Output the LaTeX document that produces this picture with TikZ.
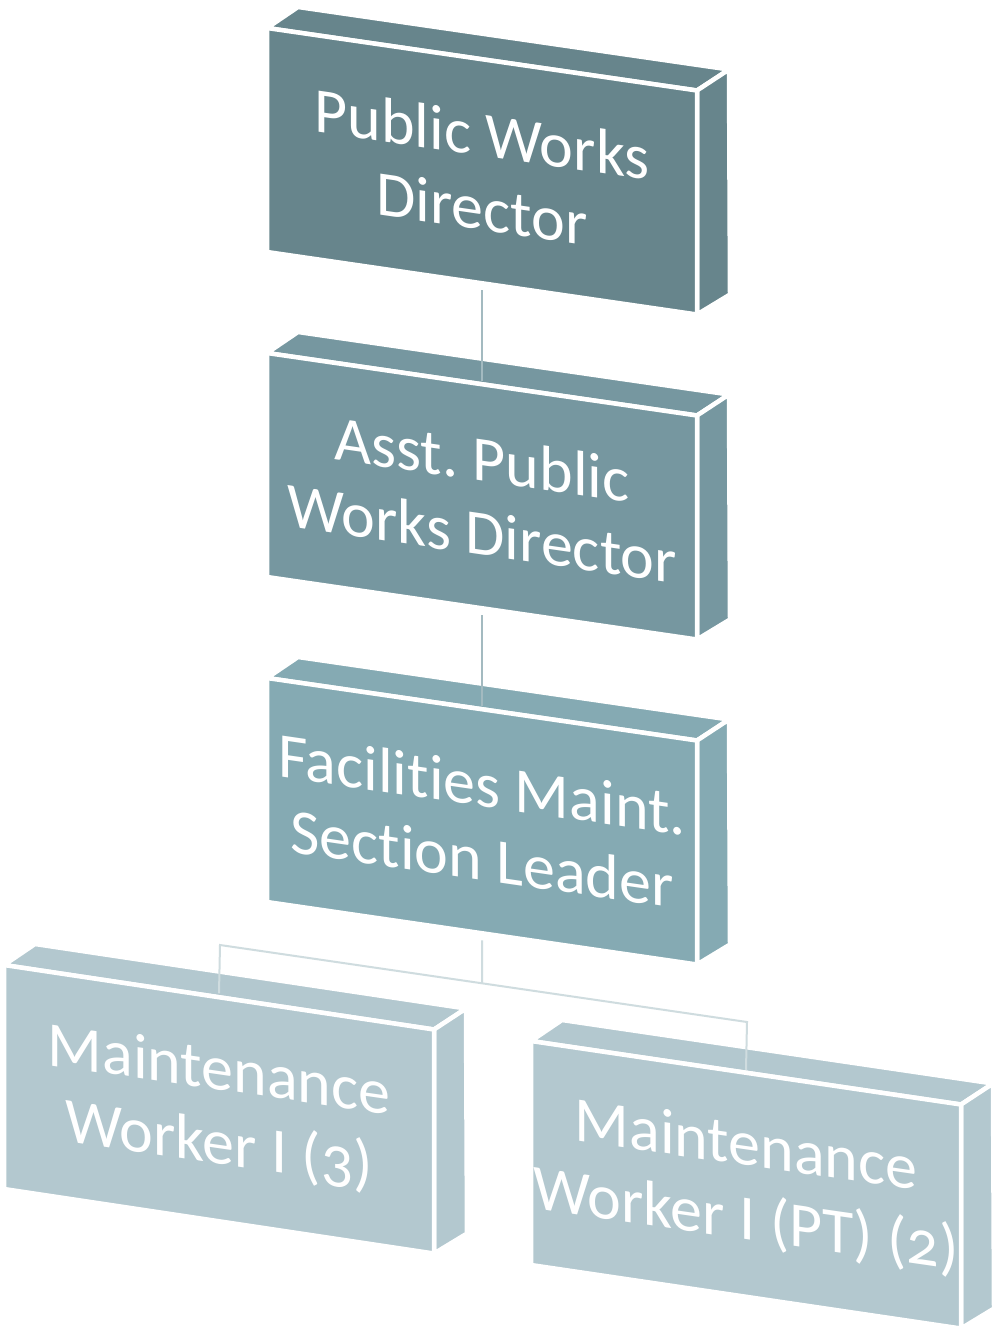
\documentclass[tikz,border=0pt]{standalone}
\usepackage{fontspec}
\setmainfont{Carlito}[Numbers=OldStyle, Ligatures=NoCommon]
\frenchspacing
\usetikzlibrary{calc}
\definecolor{lvA}{HTML}{67858C}
\definecolor{lvB}{HTML}{7697A0}
\definecolor{lvC}{HTML}{85AAB3}
\definecolor{lvD}{HTML}{B3C8CF}
\definecolor{linkA}{HTML}{A3BAC0}
\definecolor{linkB}{HTML}{CFDCDF}
\newcommand\lblfont{\fontsize{64}{74}\selectfont}
\tikzset{
  face/.style={draw=white, line width=4.5pt, line join=miter},
  lbl/.style={text=white, align=center, font=\lblfont, yslant=-0.145, transform shape, inner sep=0pt},
  link/.style={line width=2pt},
}
\newcommand\orgbox[6]{%
  \coordinate (#1-tl) at (#2,#3);
  \coordinate (#1-tr) at (#2+430,#3+#6);
  \coordinate (#1-br) at (#2+430,#3+#6+224);
  \coordinate (#1-bl) at (#2,#3+224);
  \filldraw[fill=#4, face] (#1-tl) -- ++(31,-21) -- ($(#1-tr)+(32,-21)$) -- (#1-tr) -- cycle;
  \filldraw[fill=#4, face] (#1-tr) -- ++(32,-21) -- ($(#1-br)+(33,-20)$) -- (#1-br) -- cycle;
  \filldraw[fill=#4, face] (#1-tl) -- (#1-tr) -- (#1-br) -- (#1-bl) -- cycle;
  \node[lbl] (#1) at ($(#1-tl)!0.5!(#1-br)$) {#5};
}
\begin{document}
\begin{tikzpicture}[x=1pt, y=-1pt]
\fill[white] (0,0) rectangle (996,1335);
\useasboundingbox (0,0) rectangle (996,1335);

\orgbox{b1}{267}{28}{lvA}{Public Works\\Director}{62.5}
\orgbox{b2}{267}{353}{lvB}{Asst. Public\\Works Director}{62.5}
\draw[link, linkA] ($(b1-bl)!0.5!(b1-br)+(0,7)$) -- ($(b2-tl)!0.5!(b2-tr)+(0,-3)$);
\orgbox{b3}{267}{678}{lvC}{Facilit\kern0pt ies Maint.\\Section Leader}{62.5}
\draw[link, linkA] ($(b2-bl)!0.5!(b2-br)+(0,7)$) -- ($(b3-tl)!0.5!(b3-tr)+(0,-3)$);
\orgbox{b4}{4}{965}{lvD}{Maintenance\\Worker I (3)}{64.5}
\orgbox{b5}{531}{1041}{lvD}{Maintenance\\Worker I (PT) (2)}{63.5}

\coordinate (busL) at (220,945);
\coordinate (busR) at (747,1022);
\coordinate (b3-out) at ($(b3-bl)!0.5!(b3-br)+(0,7)$);
\coordinate (busM) at ($(busL)!0.4972!(busR)$);
\draw[link, linkB] (b3-out) -- (busM);
\draw[link, linkB] ($(b4-tl)!0.5!(b4-tr)+(0,-4)$) -- (busL) -- (busR) -- ($(b5-tl)!0.5!(b5-tr)+(0,-3)$);
\end{tikzpicture}
\end{document}
